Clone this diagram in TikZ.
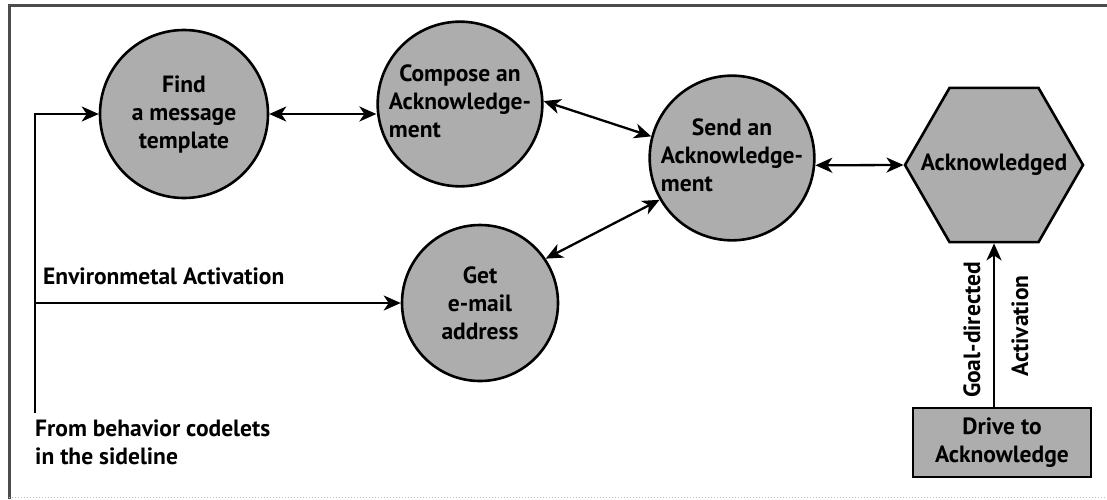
\documentclass[tikz,border=0pt]{standalone}
\usepackage{fontspec}
\setmainfont{PT Sans}
\usetikzlibrary{arrows.meta,shapes.geometric}
\definecolor{nodegray}{HTML}{ADADAD}
\tikzset{
  txt/.style={font=\fontsize{23.5}{28}\selectfont\bfseries},
  activity/.style={circle, draw=black, line width=2.6pt, fill=nodegray,
    inner sep=0pt, txt, align=center},
  goalhex/.style={regular polygon, regular polygon sides=6, draw=black,
    line width=2.6pt, fill=nodegray, inner sep=0pt, minimum size=178pt},
  drivebox/.style={rectangle, draw=black, line width=2.6pt, fill=nodegray,
    minimum width=178pt, minimum height=69pt, inner sep=0pt, txt, align=center},
  link/.style={line width=2.3pt, {Stealth[length=17pt,width=15pt,inset=5pt]}-{Stealth[length=17pt,width=15pt,inset=5pt]}},
  feed/.style={line width=2.3pt, -{Stealth[length=17pt,width=15pt,inset=5pt]}},
  lbl/.style={txt, inner sep=0pt}
}
\begin{document}
\begin{tikzpicture}[x=1pt,y=-1pt]
  \useasboundingbox (0,0) rectangle (1107,499);
  % frame
  \draw[gray!60!black, line width=3pt] (9,499) -- (9,5) -- (1107,5);
  \draw[gray!50, line width=1pt, dotted] (9,497) -- (1107,497);

  % activity nodes
  \node[activity, minimum size=168pt] (find) at (184,114) {Find\\a message\\template};
  \node[activity, minimum size=158pt] (compose) at (460,104)
    {\begin{tabular}{@{}l@{}}\multicolumn{1}{@{}c@{}}{Compose an}\\Acknowledge-\\ment\end{tabular}};
  \node[activity, minimum size=164pt] (send) at (732,158)
    {\begin{tabular}{@{}l@{}}\multicolumn{1}{@{}c@{}}{Send an}\\Acknowledge-\\ment\end{tabular}};
  \node[activity, minimum size=156pt] (get) at (480,303) {Get\\e-mail\\address};

  % goal hexagon; its text spans almost corner to corner
  \node[goalhex] (ack) at (994,165) {};
  \node[lbl] (acktext) at (ack.center) {Acknowledged};
  \node[drivebox] (drive) at (1002,442.5) {Drive to\\Acknowledge};

  % links between behaviours
  \draw[link] (find.east) -- (compose.west |- find.east);
  \draw[link] (compose.2) -- (send.165);
  \draw[link] (get.34) -- (send.210);
  \draw[link] (send.-5) -- (ack.west);

  % environmental activation
  \coordinate (srcbot) at (35,413);
  \coordinate (srctop) at (35,114);
  \coordinate (envsrc) at (35,303);
  \draw[feed] (srcbot) -- (srctop) -- (find.west);
  \draw[feed] (envsrc) -- (get.west);
  \node[lbl, anchor=west] (envlbl) at (43,276) {Environmetal Activation};
  \node[lbl, anchor=north west, align=left] (srclbl) at (35,420) {From behavior codelets\\in the sideline};

  % goal-directed activation
  \draw[feed] (ack.south |- drive.north) -- (ack.south);
  \node[lbl, rotate=90] (goallbl) at (972,330) {Goal-directed};
  \node[lbl, rotate=90] (actlbl) at (1020,326) {Activation};
\end{tikzpicture}
\end{document}
